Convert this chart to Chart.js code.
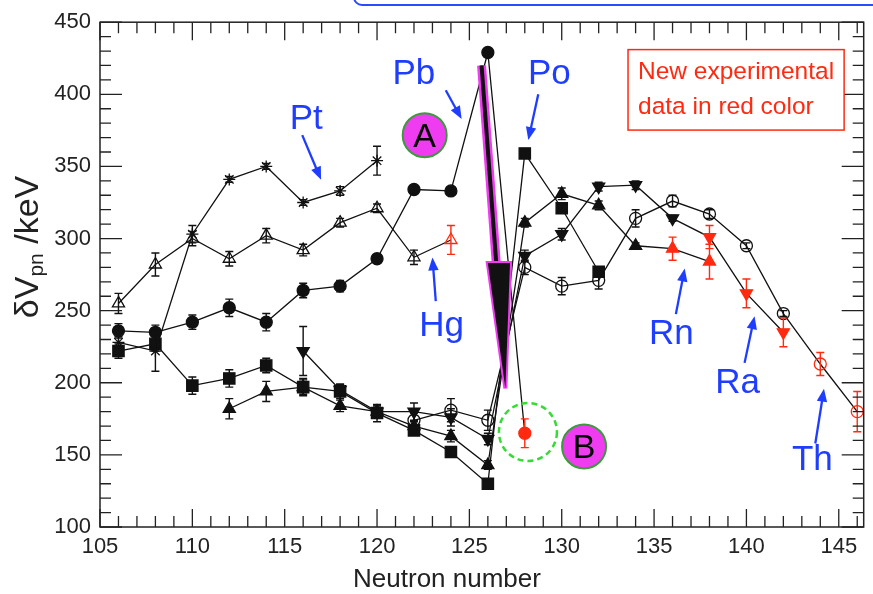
<!DOCTYPE html>
<html>
<head>
<meta charset="utf-8">
<script src="https://cdn.jsdelivr.net/npm/chart.js@4.4.1/dist/chart.umd.min.js"></script>
<style>
  html, body { margin: 0; padding: 0; background: #fff; }
  #wrap { width: 873px; height: 594px; }
</style>
</head>
<body>
<div id="wrap"><canvas id="c" width="873" height="594"></canvas></div>
<script>
// delta V_pn values vs neutron number
const ptN   = [106, 108, 110, 112, 114, 116, 118, 120];
const ptV   = [228, 222, 303, 341, 350, 325, 333, 354];
const ptErr = [4, 14, 6, 2, 2, 2, 3, 10];

const hgN   = [106, 108, 110, 112, 114, 116, 118, 120, 122, 124];
const hgV   = [255, 282, 300, 286, 302, 292, 311, 321, 287, 299];
const hgErr = [7, 8, 5, 5, 5, 4, 3, 3, 5, 10];
const hgNew = [124];

const pbN   = [106, 108, 110, 112, 114, 116, 118, 120, 122, 124, 126, 128];
const pbV   = [236, 235, 242, 252, 242, 264, 267, 286, 334, 333, 429, 165];
const pbErr = [5, 5, 5, 6, 6, 5, 4, 3, 3, 3, 3, 10];
const pbNew = [128];

const poN   = [106, 108, 110, 112, 114, 116, 118, 120, 122, 124, 126, 128, 130, 132];
const poV   = [222, 227, 198, 203, 212, 197, 194, 179, 167, 152, 130, 359, 321, 277];
const poErr = [5, 5, 6, 6, 5, 6, 5, 6, 3, 2, 2, 2, 3, 3];

const rnN   = [112, 114, 116, 118, 120, 122, 124, 126, 128, 130, 132, 134, 136, 138];
const rnV   = [182, 194, 197, 184, 180, 170, 163, 143, 311, 331, 323, 295, 293, 284];
const rnErr = [7, 7, 5, 4, 4, 3, 4, 3, 3, 4, 3, 2, 8, 12];
const rnNew = [136, 138];

const raN   = [116, 118, 120, 122, 124, 126, 128, 130, 132, 134, 136, 138, 140, 142];
const raV   = [222, 195, 180, 180, 176, 161, 288, 303, 336, 337, 314, 301, 262, 235];
const raErr = [17, 4, 4, 6, 6, 4, 4, 4, 3, 3, 2, 8, 10, 10];
const raNew = [138, 140, 142];

const thN   = [122, 124, 126, 128, 130, 132, 134, 136, 138, 140, 142, 144, 146];
const thV   = [174, 181, 174, 280, 267, 271, 314, 326, 317, 295, 248, 213, 180];
const thErr = [5, 8, 7, 5, 6, 6, 6, 4, 3, 2, 2, 8, 14];
const thNew = [144, 146];

const xTicks = [105, 110, 115, 120, 125, 130, 135, 140, 145];
const yTicks = [100, 150, 200, 250, 300, 350, 400, 450];

const FONT = '"Liberation Sans", Arial, Helvetica, sans-serif';
const BLACK = '#111';
const RED = '#ff2a10';
const BLUE = '#1f3dff';
const MAGENTA = '#f03cf0';

Chart.defaults.font.family = FONT;

// marker look per series
const series = [
  { n: ptN, v: ptV, err: ptErr, red: [],    style: 'star',     r: 6, open: false },
  { n: hgN, v: hgV, err: hgErr, red: hgNew, style: 'triangle', r: 7, open: true },
  { n: pbN, v: pbV, err: pbErr, red: pbNew, style: 'circle',   r: 6, open: false },
  { n: poN, v: poV, err: poErr, red: [],    style: 'rect',     r: 8, open: false },
  { n: rnN, v: rnV, err: rnErr, red: rnNew, style: 'triangle', r: 7, open: false },
  { n: raN, v: raV, err: raErr, red: raNew, style: 'triangle', r: 7, open: false, rot: 180 },
  { n: thN, v: thV, err: thErr, red: thNew, style: 'circle',   r: 6, open: true }
];

const isRed = (s, c) => c && c.raw && s.red.includes(c.raw.x);

const datasets = series.map(s => ({
  data: s.n.map((n, i) => ({ x: n, y: s.v[i] })),
  borderColor: BLACK,
  borderWidth: 1.3,
  tension: 0,
  fill: false,
  pointStyle: s.style,
  pointRadius: s.r,
  pointRotation: s.rot || 0,
  pointBorderWidth: 1.3,
  pointBorderColor: c => isRed(s, c) ? RED : BLACK,
  pointBackgroundColor: c => s.open ? 'rgba(0,0,0,0)' : (isRed(s, c) ? RED : BLACK)
}));

// error bars from the err arrays
const errorBars = {
  id: 'errorBars',
  afterDatasetsDraw(chart) {
    const { ctx, scales: { x, y } } = chart;
    ctx.save();
    ctx.lineWidth = 1.4;
    series.forEach(s => {
      s.n.forEach((n, i) => {
        const e = s.err[i];
        if (!e) return;
        const px = x.getPixelForValue(n);
        const y1 = y.getPixelForValue(s.v[i] + e);
        const y2 = y.getPixelForValue(s.v[i] - e);
        ctx.strokeStyle = s.red.includes(n) ? RED : BLACK;
        ctx.beginPath();
        ctx.moveTo(px, y1); ctx.lineTo(px, y2);
        ctx.moveTo(px - 4, y1); ctx.lineTo(px + 4, y1);
        ctx.moveTo(px - 4, y2); ctx.lineTo(px + 4, y2);
        ctx.stroke();
      });
    });
    ctx.restore();
  }
};

function arrow(ctx, x1, y1, x2, y2, color, w, head) {
  const a = Math.atan2(y2 - y1, x2 - x1);
  ctx.strokeStyle = color; ctx.fillStyle = color; ctx.lineWidth = w;
  ctx.beginPath();
  ctx.moveTo(x1, y1);
  ctx.lineTo(x2 - Math.cos(a) * head * 0.8, y2 - Math.sin(a) * head * 0.8);
  ctx.stroke();
  ctx.beginPath();
  ctx.moveTo(x2, y2);
  ctx.lineTo(x2 - head * Math.cos(a) + head * 0.4 * Math.sin(a), y2 - head * Math.sin(a) - head * 0.4 * Math.cos(a));
  ctx.lineTo(x2 - head * Math.cos(a) - head * 0.4 * Math.sin(a), y2 - head * Math.sin(a) + head * 0.4 * Math.cos(a));
  ctx.closePath();
  ctx.fill();
}

// frame, inside ticks, titles and the annotations
const decor = {
  id: 'decor',
  afterDraw(chart) {
    const { ctx, chartArea: ca, scales: { x, y } } = chart;
    const X = v => x.getPixelForValue(v), Y = v => y.getPixelForValue(v);
    ctx.save();

    // frame
    ctx.strokeStyle = '#222'; ctx.lineWidth = 1.5;
    ctx.strokeRect(ca.left, ca.top, ca.right - ca.left, ca.bottom - ca.top);
    ctx.lineWidth = 1.3;
    ctx.beginPath();
    for (let n = 105; n <= 146; n++) {
      const len = n % 5 === 0 ? 18 : 11;
      ctx.moveTo(X(n), ca.bottom); ctx.lineTo(X(n), ca.bottom - len);
      ctx.moveTo(X(n), ca.top); ctx.lineTo(X(n), ca.top + len);
    }
    for (let v = 100; v <= 450; v += 10) {
      const len = v % 50 === 0 ? 22 : 11;
      ctx.moveTo(ca.left, Y(v)); ctx.lineTo(ca.left + len, Y(v));
      ctx.moveTo(ca.right, Y(v)); ctx.lineTo(ca.right - len, Y(v));
    }
    ctx.stroke();

    // axis titles
    ctx.fillStyle = '#222';
    ctx.font = '26px ' + FONT;
    ctx.textAlign = 'center'; ctx.textBaseline = 'middle';
    ctx.fillText('Neutron number', 447, 580);

    ctx.translate(26, 247);
    ctx.rotate(-Math.PI / 2);
    const big = '34px ' + FONT, small = '21px ' + FONT;
    ctx.font = big; const w1 = ctx.measureText('\u03b4V').width;
    ctx.font = small; const w2 = ctx.measureText('pn').width;
    ctx.font = big; const w3 = ctx.measureText(' /keV').width;
    let sx = -(w1 + w2 + w3) / 2;
    ctx.textAlign = 'left'; ctx.textBaseline = 'alphabetic';
    ctx.font = big; ctx.fillText('\u03b4V', sx, 12); sx += w1;
    ctx.font = small; ctx.fillText('pn', sx, 17); sx += w2;
    ctx.font = big; ctx.fillText(' /keV', sx, 12);
    ctx.setTransform(1, 0, 0, 1, 0, 0);

    // magenta-outlined arrow from A towards B
    const s1 = [X(125.66), Y(420)], s2 = [X(126.45), Y(284)];
    ctx.lineCap = 'butt';
    ctx.strokeStyle = MAGENTA; ctx.lineWidth = 9;
    ctx.beginPath(); ctx.moveTo(...s1); ctx.lineTo(...s2); ctx.stroke();
    ctx.strokeStyle = BLACK; ctx.lineWidth = 4;
    ctx.beginPath(); ctx.moveTo(...s1); ctx.lineTo(...s2); ctx.stroke();
    ctx.beginPath();
    ctx.moveTo(X(126.0), Y(283)); ctx.lineTo(X(127.2), Y(283)); ctx.lineTo(X(126.95), Y(196));
    ctx.closePath();
    ctx.lineJoin = 'miter';
    ctx.strokeStyle = MAGENTA; ctx.lineWidth = 4; ctx.stroke();
    ctx.fillStyle = BLACK; ctx.fill();

    // A and B discs
    [['A', 122.58, 371.7], ['B', 131.21, 155.9]].forEach(([t, cx, cy]) => {
      ctx.beginPath(); ctx.arc(X(cx), Y(cy), 22, 0, 2 * Math.PI);
      ctx.fillStyle = MAGENTA; ctx.fill();
      ctx.strokeStyle = '#3c9a3c'; ctx.lineWidth = 2; ctx.stroke();
      ctx.fillStyle = '#000'; ctx.font = '34px ' + FONT;
      ctx.textAlign = 'center'; ctx.textBaseline = 'middle';
      ctx.fillText(t, X(cx), Y(cy) + 2);
    });

    // dashed green ring around the new Pb point
    ctx.setLineDash([6, 4]);
    ctx.strokeStyle = '#33dd33'; ctx.lineWidth = 2.5;
    ctx.beginPath(); ctx.arc(X(128.17), Y(165.9), 29, 0, 2 * Math.PI); ctx.stroke();
    ctx.setLineDash([]);

    // element labels with arrows
    const labels = [
      ['Pt', 116.17, 375.9, 115.95, 371.7, 116.97, 340.7],
      ['Pb', 121.99, 406.9, 123.72, 402.8, 124.58, 382.8],
      ['Po', 129.33, 406.9, 128.73, 400.0, 128.19, 368.3],
      ['Hg', 123.5, 232.4, 123.18, 256.6, 123.0, 286.9],
      ['Rn', 135.94, 226.9, 136.18, 247.6, 136.66, 279.3],
      ['Ra', 139.52, 193.1, 139.9, 213.8, 140.44, 246.2],
      ['Th', 143.57, 139.3, 143.73, 157.9, 144.2, 195.9]
    ];
    labels.forEach(([t, tx, ty, ax1, ay1, ax2, ay2]) => {
      ctx.fillStyle = BLUE; ctx.font = '35px ' + FONT;
      ctx.textAlign = 'center'; ctx.textBaseline = 'alphabetic';
      ctx.fillText(t, X(tx), Y(ty));
      arrow(ctx, X(ax1), Y(ay1), X(ax2), Y(ay2), BLUE, 2.3, 13);
    });

    // red note box
    const bx1 = X(133.59), by1 = Y(431), bx2 = X(145.29), by2 = Y(375.2);
    ctx.fillStyle = '#fff'; ctx.fillRect(bx1, by1, bx2 - bx1, by2 - by1);
    ctx.strokeStyle = RED; ctx.lineWidth = 1.5;
    ctx.strokeRect(bx1, by1, bx2 - bx1, by2 - by1);
    ctx.fillStyle = RED; ctx.font = '24.5px ' + FONT;
    ctx.textAlign = 'left'; ctx.textBaseline = 'middle';
    ctx.fillText('New experimental', bx1 + 10, by1 + 23);
    ctx.fillText('data in red color', bx1 + 10, by1 + 58);

    // edge of a blue box cut off at the top
    ctx.strokeStyle = '#2a4cff'; ctx.lineWidth = 2;
    ctx.beginPath();
    ctx.moveTo(354, -5);
    ctx.arcTo(354, 5, 364, 5, 8);
    ctx.lineTo(880, 5);
    ctx.stroke();

    ctx.restore();
  }
};

new Chart(document.getElementById('c'), {
  type: 'line',
  data: { datasets },
  options: {
    responsive: false,
    devicePixelRatio: 1,
    animation: false,
    layout: { padding: { top: 19, right: 6, left: 0, bottom: 0 } },
    plugins: { legend: { display: false }, tooltip: { enabled: false } },
    scales: {
      x: {
        type: 'linear', min: 105, max: 146.35,
        afterBuildTicks: sc => { sc.ticks = xTicks.map(v => ({ value: v })); },
        ticks: { font: { size: 22 }, color: '#222', padding: 7, maxRotation: 0, autoSkip: false },
        grid: { display: false, drawTicks: false },
        border: { display: false },
        afterFit: sc => { sc.height = 67; }
      },
      y: {
        type: 'linear', min: 100, max: 450,
        afterBuildTicks: sc => { sc.ticks = yTicks.map(v => ({ value: v })); },
        ticks: { font: { size: 22 }, color: '#222', padding: 9 },
        grid: { display: false, drawTicks: false },
        border: { display: false },
        afterFit: sc => { sc.width = 100; }
      }
    }
  },
  plugins: [errorBars, decor]
});
</script>
</body>
</html>
